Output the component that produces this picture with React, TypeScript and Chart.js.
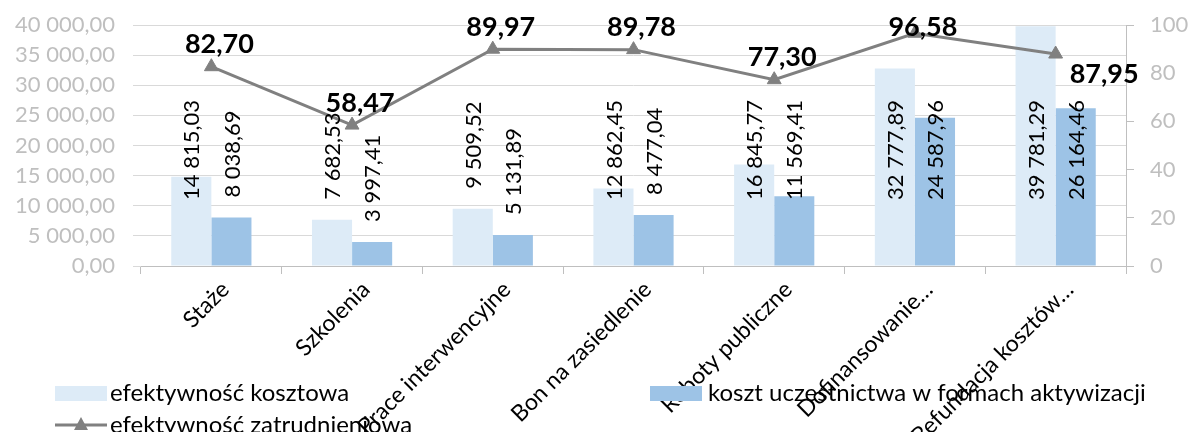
import React, { useEffect, useRef } from "react";
import { Chart, registerables } from "chart.js";

Chart.register(...registerables);

const categories = [
  "Staże",
  "Szkolenia",
  "Prace interwencyjne",
  "Bon na zasiedlenie",
  "Roboty publiczne",
  "Dofinansowanie…",
  "Refundacja kosztów…",
];
const costEfficiency = [14815.03, 7682.53, 9509.52, 12862.45, 16845.77, 32777.89, 39781.29];
const participationCost = [8038.69, 3997.41, 5131.89, 8477.04, 11569.41, 24587.96, 26164.46];
const employmentEfficiency = [82.7, 58.47, 89.97, 89.78, 77.3, 96.58, 87.95];

const seriesNames = [
  "efektywność kosztowa",
  "koszt uczestnictwa w formach aktywizacji",
  "efektywność zatrudnieniowa",
];

const leftMax = 40000;
const leftStep = 5000;
const rightMax = 100;
const rightStep = 20;

const FONT = "Lato";
const LIGHT = "#DDEBF7";
const DARK = "#9DC3E6";
const LINE = "#808080";
const AXIS_TEXT = "#BFBFBF";

function fmtPL(v: number, decimals: number): string {
  const s = v.toFixed(decimals);
  const [ip, dp] = s.split(".");
  const intPart = ip.replace(/\B(?=(\d{3})+(?!\d))/g, " ");
  return dp ? intPart + "," + dp : intPart;
}

const labelsPlugin = {
  id: "customLabels",
  afterDatasetsDraw(chart: any) {
    const ctx = chart.ctx;
    ctx.save();
    // bar value labels, rotated
    ctx.font = `22px ${FONT}`;
    ctx.fillStyle = "#000";
    [0, 1].forEach((di) => {
      const meta = chart.getDatasetMeta(di);
      const vals = chart.data.datasets[di].data as number[];
      meta.data.forEach((bar: any, j: number) => {
        const text = fmtPL(vals[j], 2);
        const w = ctx.measureText(text).width;
        let start = bar.y - 20;
        if (start - w < 100) start = 100 + w;
        ctx.save();
        ctx.translate(bar.x + 1, start);
        ctx.rotate(-Math.PI / 2);
        ctx.textAlign = "left";
        ctx.textBaseline = "middle";
        ctx.fillText(text, 0, 0);
        ctx.restore();
      });
    });
    // line value labels
    ctx.font = `bold 27px ${FONT}`;
    const lm = chart.getDatasetMeta(2);
    const lv = chart.data.datasets[2].data as number[];
    const n = lm.data.length;
    lm.data.forEach((pt: any, j: number) => {
      const text = fmtPL(lv[j], 2);
      ctx.textBaseline = "middle";
      if (j === n - 1) {
        ctx.textAlign = "left";
        ctx.fillText(text, pt.x + 14, pt.y + 20);
      } else {
        ctx.textAlign = "center";
        const cy = Math.max(pt.y - 22, 27);
        ctx.fillText(text, pt.x + 8, cy);
      }
    });
    ctx.restore();
  },
  afterDraw(chart: any) {
    const ctx = chart.ctx;
    ctx.save();
    ctx.font = `24px ${FONT}`;
    ctx.fillStyle = "#000";
    ctx.textAlign = "left";
    ctx.textBaseline = "middle";
    const row1 = 393;
    const row2 = 425;
    // item 1
    ctx.fillStyle = LIGHT;
    ctx.fillRect(55, row1 - 7, 52, 15);
    ctx.fillStyle = "#000";
    ctx.fillText(seriesNames[0], 110, row1);
    // item 2
    ctx.fillStyle = DARK;
    ctx.fillRect(650, row1 - 7, 52, 15);
    ctx.fillStyle = "#000";
    ctx.fillText(seriesNames[1], 708, row1);
    // item 3
    ctx.strokeStyle = LINE;
    ctx.lineWidth = 3;
    ctx.beginPath();
    ctx.moveTo(55, row2);
    ctx.lineTo(107, row2);
    ctx.stroke();
    ctx.fillStyle = LINE;
    ctx.beginPath();
    ctx.moveTo(81, row2 - 8);
    ctx.lineTo(88, row2 + 5);
    ctx.lineTo(74, row2 + 5);
    ctx.closePath();
    ctx.fill();
    ctx.fillStyle = "#000";
    ctx.fillText(seriesNames[2], 110, row2);
    ctx.restore();
  },
};

const noVerticalPadding = (s: any, width: number) => {
  s.width = width;
  s.paddingTop = 0;
  s.paddingBottom = 0;
};

export default function App() {
  const ref = useRef<HTMLCanvasElement | null>(null);
  useEffect(() => {
    document.body.style.margin = "0";
    if (!ref.current) return;
    const chart = new Chart(ref.current, {
      type: "bar",
      data: {
        labels: categories,
        datasets: [
          {
            type: "bar",
            label: seriesNames[0],
            data: costEfficiency,
            backgroundColor: LIGHT,
            yAxisID: "y",
            order: 2,
          },
          {
            type: "bar",
            label: seriesNames[1],
            data: participationCost,
            backgroundColor: DARK,
            yAxisID: "y",
            order: 2,
          },
          {
            type: "line",
            label: seriesNames[2],
            data: employmentEfficiency,
            borderColor: LINE,
            backgroundColor: LINE,
            borderWidth: 3,
            pointStyle: "triangle",
            pointRadius: 8,
            pointBackgroundColor: LINE,
            pointBorderColor: LINE,
            pointBorderWidth: 1,
            yAxisID: "y1",
            order: 1,
          } as any,
        ],
      },
      options: {
        animation: false,
        responsive: true,
        maintainAspectRatio: false,
        devicePixelRatio: 1,
        layout: { padding: { top: 25, left: 0, right: 0, bottom: 0 } },
        datasets: { bar: { categoryPercentage: 0.57, barPercentage: 1.0 } },
        plugins: {
          legend: { display: false },
          tooltip: { enabled: false },
        },
        scales: {
          x: {
            offset: true,
            grid: {
              offset: true,
              drawOnChartArea: false,
              drawTicks: true,
              tickLength: 8,
              color: "#BFBFBF",
            },
            border: { color: "#BFBFBF" },
            ticks: {
              minRotation: 45,
              maxRotation: 45,
              autoSkip: false,
              color: "#000",
              font: { family: FONT, size: 23 },
              padding: 2,
              labelOffset: 14,
            },
            afterFit: (s: any) => {
              s.height = 166;
              s.paddingLeft = 0;
              s.paddingRight = 0;
            },
          },
          y: {
            position: "left",
            min: 0,
            max: leftMax,
            grid: { color: "#D9D9D9", tickLength: 8, drawTicks: true },
            border: { display: false },
            ticks: {
              stepSize: leftStep,
              autoSkip: false,
              color: AXIS_TEXT,
              font: { family: FONT, size: 22 },
              padding: 18,
              callback: (v: any) => fmtPL(Number(v), 2),
            },
            afterFit: (s: any) => noVerticalPadding(s, 141),
          },
          y1: {
            position: "right",
            min: 0,
            max: rightMax,
            grid: { drawOnChartArea: false, drawTicks: true, tickLength: 8, color: "#BFBFBF" },
            border: { color: "#BFBFBF" },
            ticks: {
              stepSize: rightStep,
              autoSkip: false,
              color: AXIS_TEXT,
              font: { family: FONT, size: 22 },
              padding: 16,
              callback: (v: any) => fmtPL(Number(v), 0),
            },
            afterFit: (s: any) => noVerticalPadding(s, 67),
          },
        },
      },
      plugins: [labelsPlugin],
    });
    return () => chart.destroy();
  }, []);
  return (
    <div style={{ position: "relative", width: 1193, height: 432 }}>
      <canvas ref={ref} />
    </div>
  );
}
